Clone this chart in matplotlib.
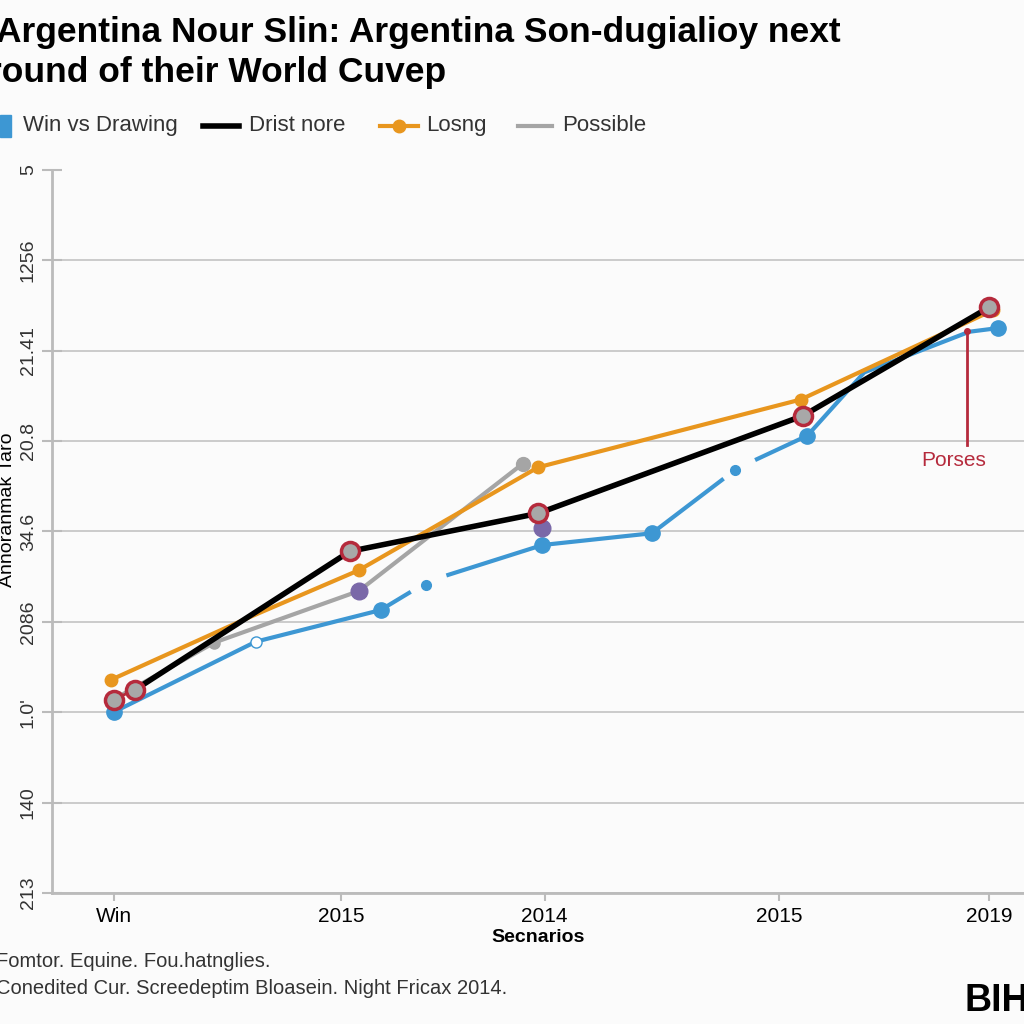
import numpy as np
import matplotlib.pyplot as plt

# x tick positions / labels (uneven category spacing as in the picture)
tick_pos = [0, 1.04, 1.97, 3.04, 4.0]
tick_lbl = ['Win', '2015', '2014', '2015', '2019']
ytick_pos = [0, 1, 2, 3, 4, 5, 6, 7, 8]
ytick_lbl = ['213', '140', '1.0\'', '2086', '34.6', '20.8', '21.41', '1256', '5']

# Win vs Drawing (blue), None = break in the line
blue_x = [0, 0.65, 1.22, 1.35, None, 1.53, 1.96, 2.46, 2.78, None, 2.94, 3.17, 3.43, 3.91, 4.04]
blue_y = [2.00, 2.78, 3.13, 3.32, None, 3.52, 3.85, 3.98, 4.57, None, 4.80, 5.06, 5.76, 6.21, 6.25]
blue_mx = [0, 1.22, 1.96, 2.46, 3.17, 4.04]
blue_my = [2.00, 3.13, 3.85, 3.98, 5.06, 6.25]
blue_dx = [1.43, 2.84]
blue_dy = [3.41, 4.68]

# Drist nore (black)
black_x = [0.10, 1.08, 1.94, 3.15, 4.0]
black_y = [2.25, 3.78, 4.20, 5.28, 6.48]
ring_x = [0, 0.10, 1.08, 1.94, 3.15, 4.0]
ring_y = [2.14, 2.25, 3.78, 4.20, 5.28, 6.48]

# Losng (orange)
orange_x = [-0.01, 0.62, 1.12, 1.94, 3.14, 4.02]
orange_y = [2.36, 3.05, 3.57, 4.71, 5.46, 6.45]
orange_mx = [-0.01, 1.12, 1.94, 3.14, 4.02]
orange_my = [2.36, 3.57, 4.71, 5.46, 6.45]

# Possible (grey)
grey_x = [0, 0.46, 1.12, 1.87]
grey_y = [2.14, 2.77, 3.34, 4.75]
purple_x = [1.12, 1.96]
purple_y = [3.34, 4.04]

BLUE = '#3d97d3'
ORANGE = '#e8961e'
GREY = '#a5a5a5'
RED = '#b52a3c'

plt.rcParams['font.family'] = ['Liberation Sans', 'DejaVu Sans']
fig = plt.figure(figsize=(10.24, 10.24), dpi=100)
fig.patch.set_facecolor('#fbfbfb')
ax = fig.add_axes([0.051, 0.128, 0.949, 0.706])
ax.set_facecolor('#fbfbfb')

bx = np.array([np.nan if v is None else v for v in blue_x])
by = np.array([np.nan if v is None else v for v in blue_y])
ax.plot(grey_x, grey_y, color=GREY, lw=3, zorder=2)
ax.plot(grey_x[1], grey_y[1], 'o', color=GREY, ms=8, zorder=3)
ax.plot(grey_x[3], grey_y[3], 'o', color=GREY, ms=10, zorder=3)
ax.plot(bx, by, color=BLUE, lw=3, zorder=2)
ax.plot(blue_mx, blue_my, 'o', color=BLUE, ms=11, zorder=4)
ax.plot(blue_dx, blue_dy, 'o', color=BLUE, ms=7, zorder=4)
ax.plot(bx[1], by[1], 'o', color='white', mec=BLUE, ms=8, zorder=4)
ax.plot(orange_x, orange_y, color=ORANGE, lw=3, zorder=3)
ax.plot(orange_mx, orange_my, 'o', color=ORANGE, ms=9, zorder=4)
ax.plot(purple_x, purple_y, 'o', color='#7a68a8', ms=12, zorder=4)
ax.plot(black_x, black_y, color='black', lw=4, zorder=5)
ax.plot(ring_x[:2], ring_y[:2], color=RED, lw=2, zorder=5)
ax.plot(ring_x, ring_y, 'o', ls='none', color='#a8a8a8', mec=RED, mew=2.5, ms=13, zorder=6)

# annotation
ax.plot([3.90, 3.90], [6.22, 4.96], color=RED, lw=2, zorder=6)
ax.plot(3.90, 6.22, 'o', color=RED, ms=4, zorder=6)
ax.text(3.84, 4.79, 'Porses', color=RED, fontsize=15, ha='center', va='center')

ax.set_xlim(-0.28, 4.16)
ax.set_ylim(0, 8)
ax.set_xticks(tick_pos)
ax.set_xticklabels(tick_lbl, fontsize=15)
ax.set_yticks(ytick_pos)
ax.set_yticklabels(ytick_lbl, fontsize=14, rotation=90, va='center', color='#333333')
ax.tick_params(axis='y', direction='inout', length=14, color='#bbbbbb', width=1.5, pad=4)
ax.tick_params(axis='x', length=6, color='#bbbbbb', width=1.5, pad=4)
ax.grid(axis='y', color='#c8c8c8', lw=1.3)
ax.yaxis.get_gridlines()[-1].set_visible(False)
ax.set_axisbelow(True)
for s in ['top', 'right']:
    ax.spines[s].set_visible(False)
for s in ['left', 'bottom']:
    ax.spines[s].set_color('#bbbbbb')
    ax.spines[s].set_linewidth(2)
ax.set_xlabel('Secnarios', fontsize=14, fontweight='bold', labelpad=2)
ax.set_ylabel('Annoranmak Taro', fontsize=14, labelpad=0)
ax.yaxis.set_label_coords(-0.037, 0.53)

# title
fig.text(-0.004, 0.968, 'Argentina Nour Slin: Argentina Son-dugialioy next', fontsize=25.5,
         fontweight='bold', ha='left', va='center')
fig.text(-0.012, 0.929, 'round of their World Cuvep', fontsize=25.5,
         fontweight='bold', ha='left', va='center')

# legend row
ly = 0.877
fig.patches.append(plt.Rectangle((0.0, ly - 0.011), 0.011, 0.022, color=BLUE,
                                 transform=fig.transFigure))
fig.text(0.022, ly, 'Win vs Drawing', fontsize=16, va='center', color='#333333')
fig.lines.append(plt.Line2D([0.198, 0.233], [ly, ly], color='black', lw=4, transform=fig.transFigure))
fig.text(0.243, ly, 'Drist nore', fontsize=16, va='center', color='#333333')
fig.lines.append(plt.Line2D([0.371, 0.39, 0.408], [ly, ly, ly], color=ORANGE, lw=3, marker='o',
                            markevery=[1], ms=9, transform=fig.transFigure))
fig.text(0.416, ly, 'Losng', fontsize=16, va='center', color='#333333')
fig.lines.append(plt.Line2D([0.506, 0.539], [ly, ly], color=GREY, lw=3, transform=fig.transFigure))
fig.text(0.549, ly, 'Possible', fontsize=16, va='center', color='#333333')

# footer
fig.text(-0.004, 0.061, 'Fomtor. Equine. Fou.hatnglies.', fontsize=14.5, va='center', color='#333333')
fig.text(-0.004, 0.035, 'Conedited Cur. Screedeptim Bloasein. Night Fricax 2014.', fontsize=14.5,
         va='center', color='#333333')
fig.text(0.942, 0.022, 'BIH', fontsize=27, fontweight='bold', va='center')

fig.savefig('out.png', dpi=100, facecolor=fig.get_facecolor())
